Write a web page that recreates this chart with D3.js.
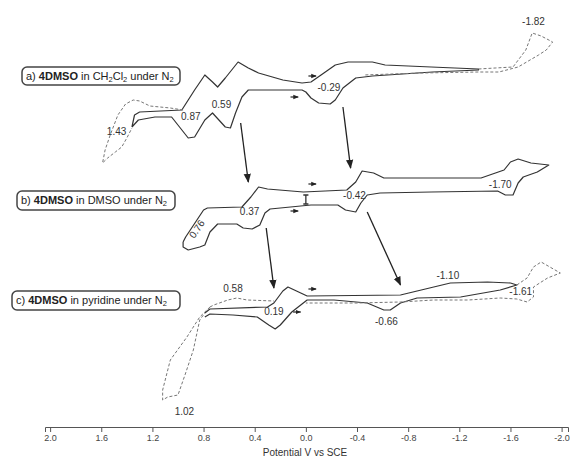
<!DOCTYPE html>
<html>
<head>
<meta charset="utf-8">
<script src="https://cdn.jsdelivr.net/npm/d3@7"></script>
<style>
  body { margin: 0; background: #fff; }
  text { font-family: "Liberation Sans", Arial, sans-serif; }
</style>
</head>
<body>
<svg id="chart" width="570" height="461"></svg>
<script>
// axis ticks (potential, V vs SCE)
const tickValues = [2.0, 1.6, 1.2, 0.8, 0.4, 0.0, -0.4, -0.8, -1.2, -1.6, -2.0];

// vertical shift of each trace (current units)
const panelOffsets = [0, -114, -214];

// a) CH2Cl2 : [E, I]
const solidA = [[1.36,-41],[1.34,-29],[1.30,-26],[0.97,-24],[0.92,-14],[0.87,-4],[0.79,11],[0.73,4],[0.69,-1],[0.63,8],[0.53,24],[0.45,18],[0.37,13],[0.18,6],[0.03,3],[-0.04,4],[-0.13,12],[-0.23,21],[-0.33,24],[-0.52,24],[-0.62,21],[-0.98,19],[-1.35,17],
  [-1.35,16],[-0.99,14],[-0.52,10],[-0.39,8],[-0.29,-2],[-0.23,-14],[-0.19,-18],[-0.10,-17],[-0.04,-12],[0.00,-6],[0.03,-4],[0.45,-4],[0.50,-11],[0.55,-27],[0.59,-42],[0.63,-41],[0.73,-27],[0.79,-34],[0.87,-51],[0.92,-52],[1.05,-31],[1.18,-31],[1.31,-34],[1.36,-41]];
const dashA1 = [[0.96,-24],[1.06,-22],[1.22,-20],[1.30,-15],[1.35,-14],[1.41,-18],[1.47,-29],[1.53,-49],[1.57,-64],[1.59,-77],[1.55,-72],[1.49,-66],[1.44,-61],[1.40,-52],[1.36,-42]];
const dashA2 = [[-1.35,17],[-1.48,18],[-1.62,19],[-1.72,36],[-1.77,53],[-1.84,50],[-1.93,44],[-1.88,36],[-1.82,31],[-1.66,19],[-1.51,14],[-1.35,14],[-0.90,13],[-0.45,11]];

// b) DMSO
const solidB = [[0.96,-42],[0.94,-37],[0.80,-10],[0.77,-8],[0.50,-7],[0.43,3],[0.37,13],[0.30,11],[0.02,8],[-0.32,10],[-0.39,18],[-0.44,29],[-0.53,27],[-0.61,22],[-0.98,22],[-1.37,22],[-1.55,30],[-1.60,38],[-1.66,41],[-1.76,37],[-1.90,35],
  [-1.81,28],[-1.70,23],[-1.66,17],[-1.62,5],[-1.56,5],[-1.50,9],[-0.98,8],[-0.58,7],[-0.48,5],[-0.43,-3],[-0.39,-12],[-0.31,-10],[-0.25,-5],[-0.04,-5],[0.28,-9],[0.32,-13],[0.36,-25],[0.42,-29],[0.49,-28],[0.54,-24],[0.69,-24],[0.75,-32],[0.79,-45],[0.83,-47],[0.92,-50],[0.96,-47],[0.96,-42]];

// c) pyridine
const solidC = [[0.79,-13],[0.75,-9],[0.30,-7],[0.25,-3],[0.18,9],[0.14,13],[0.04,7],[-0.01,4],[-0.74,5],[-1.00,13],[-1.13,17],[-1.42,18],[-1.60,17],[-1.65,15],
  [-1.52,10],[-1.21,3],[-0.87,2],[-0.74,-3],[-0.66,-10],[-0.61,-10],[-0.48,-3],[-0.22,0],[-0.01,0],[0.11,-12],[0.20,-25],[0.24,-29],[0.29,-25],[0.38,-17],[0.57,-15],[0.75,-14],[0.79,-17]];
const dashC1 = [[0.75,-7],[0.72,-5],[0.61,0],[0.54,2],[0.46,0],[0.25,-1]];
const dashC2 = [[0.75,-7],[0.83,-17],[0.93,-37],[1.06,-60],[1.12,-90],[1.12,-100],[1.08,-97],[1.00,-95],[0.94,-73],[0.88,-50],[0.83,-20],[0.79,-13]];
const dashC3 = [[-1.65,15],[-1.73,22],[-1.78,33],[-1.84,38],[-1.99,27],[-1.89,22],[-1.78,13],[-1.78,3],[-1.73,-2],[-1.65,1],[-1.52,2],[-1.27,0],[-1.00,0],[-0.74,-2],[-0.40,-3],[0.00,-3]];

// peak labels: [E, I(panel), text, panel, rotate]
const peakLabels = [
  [1.48,-49,"1.43",0,0],[0.90,-34,"0.87",0,0],[0.66,-22,"0.59",0,0],[-0.18,-5,"-0.29",0,0],[-1.78,61,"-1.82",0,0],
  [0.83,-31,"0.76",1,-55],[0.44,-15,"0.37",1,0],[-0.38,1,"-0.42",1,0],[-1.52,12,"-1.70",1,0],
  [0.57,8,"0.58",2,0],[0.25,-15,"0.19",2,0],[0.95,-115,"1.02",2,0],[-0.63,-25,"-0.66",2,0],[-1.11,21,"-1.10",2,0],[-1.68,5,"-1.61",2,0]
];

// scan-direction arrows: [E1, E2, I, panel]
const scanArrows = [[-0.02,-0.08,10,0],[0.12,0.06,-11,0],[-0.02,-0.08,16,1],[0.12,0.06,-11,1],[-0.02,-0.08,11,2],[0.10,0.04,-12,2]];

// arrows linking the traces: [E1, I1, E2, I2] (stacked current units)
const linkArrows = [[0.51,-37,0.45,-96],[-0.29,-21,-0.35,-82],[0.31,-142,0.25,-202],[-0.48,-126,-0.74,-199]];

// legend boxes
const legendParts = [
  [["a) ",0],["4DMSO",1],[" in CH",0],["2",2],["Cl",0],["2",2],[" under N",0],["2",2]],
  [["b) ",0],["4DMSO",1],[" in DMSO under N",0],["2",2]],
  [["c) ",0],["4DMSO",1],[" in pyridine under N",0],["2",2]]
];

const svg = d3.select("#chart");
const x = d3.scaleLinear().domain([2.04, -2.05]).range([45, 568]);
const y = d3.scaleLinear().domain([0, -340]).range([86, 426]);

const line = (off) => d3.line().x(d => x(d[0])).y(d => y(d[1] + off));

const traces = [
  [solidA, 0, false], [dashA1, 0, true], [dashA2, 0, true],
  [solidB, 1, false],
  [solidC, 2, false], [dashC1, 2, true], [dashC2, 2, true], [dashC3, 2, true]
];

svg.selectAll("path.trace")
  .data(traces)
  .enter().append("path")
  .attr("class", "trace")
  .attr("d", t => line(panelOffsets[t[1]])(t[0]))
  .attr("fill", "none")
  .attr("stroke", t => t[2] ? "#777" : "#333")
  .attr("stroke-width", t => t[2] ? 1 : 1.2)
  .attr("stroke-dasharray", t => t[2] ? "3,2" : null)
  .attr("stroke-linejoin", "round");

// small vertical bar in b
svg.append("path")
  .attr("d", `M${x(0.02)},${y(5 + panelOffsets[1])}H${x(-0.02)}M${x(0)},${y(5 + panelOffsets[1])}V${y(-4 + panelOffsets[1])}M${x(0.02)},${y(-4 + panelOffsets[1])}H${x(-0.02)}`)
  .attr("stroke", "#333").attr("stroke-width", 1.3).attr("fill", "none");

const defs = svg.append("defs");
defs.append("marker")
  .attr("id", "ah").attr("viewBox", "0 0 10 10").attr("refX", 9).attr("refY", 5)
  .attr("markerWidth", 7).attr("markerHeight", 7).attr("orient", "auto")
  .append("path").attr("d", "M0,1L10,5L0,9Z").attr("fill", "#222");
defs.append("marker")
  .attr("id", "sh").attr("viewBox", "0 0 10 10").attr("refX", 9).attr("refY", 5)
  .attr("markerWidth", 4.5).attr("markerHeight", 4.5).attr("orient", "auto")
  .append("path").attr("d", "M0,1L10,5L0,9Z").attr("fill", "#222");

svg.selectAll("line.scan")
  .data(scanArrows)
  .enter().append("line")
  .attr("x1", d => x(d[0])).attr("x2", d => x(d[1]))
  .attr("y1", d => y(d[2] + panelOffsets[d[3]])).attr("y2", d => y(d[2] + panelOffsets[d[3]]))
  .attr("stroke", "#222").attr("stroke-width", 1.2)
  .attr("marker-end", "url(#sh)");

svg.selectAll("line.link")
  .data(linkArrows)
  .enter().append("line")
  .attr("x1", d => x(d[0])).attr("y1", d => y(d[1]))
  .attr("x2", d => x(d[2])).attr("y2", d => y(d[3]))
  .attr("stroke", "#222").attr("stroke-width", 1.3)
  .attr("marker-end", "url(#ah)");

svg.selectAll("text.peak")
  .data(peakLabels)
  .enter().append("text")
  .attr("transform", d => `translate(${x(d[0])},${y(d[1] + panelOffsets[d[3]])}) rotate(${d[4]})`)
  .attr("text-anchor", "middle")
  .attr("font-size", 10)
  .attr("fill", "#333")
  .text(d => d[2]);

// legend boxes
const boxes = [[22, 67, 158, 18], [17, 191, 158, 19], [12, 291, 168, 19]];
boxes.forEach((b, i) => {
  const g = svg.append("g");
  g.append("rect").attr("x", b[0]).attr("y", b[1]).attr("width", b[2]).attr("height", b[3])
    .attr("rx", 5).attr("fill", "#fff").attr("stroke", "#444").attr("stroke-width", 1.5);
  const t = g.append("text").attr("x", b[0] + 4).attr("y", b[1] + b[3] / 2 + 3.8)
    .attr("font-size", 11).attr("fill", "#222");
  let sub = false;
  legendParts[i].forEach(p => {
    const ts = t.append("tspan").text(p[0]);
    if (p[1] === 1) ts.attr("font-weight", "bold");
    if (p[1] === 2) { ts.attr("font-size", 7.5).attr("dy", 2); sub = true; }
    else if (sub) { ts.attr("dy", -2); sub = false; }
  });
});

// axis
const axis = svg.append("g")
  .attr("transform", "translate(0,427)")
  .call(d3.axisBottom(x).tickValues(tickValues).tickSizeOuter(0).tickSize(5)
    .tickFormat(d => d.toFixed(1)));
axis.select(".domain").attr("stroke", "#555");
axis.selectAll(".tick line").attr("stroke", "#555");
axis.selectAll(".tick text").attr("font-size", 9).attr("fill", "#444")
  .attr("font-family", "Liberation Sans, Arial, sans-serif");

svg.append("text")
  .attr("x", 305).attr("y", 456)
  .attr("text-anchor", "middle")
  .attr("font-size", 10).attr("fill", "#333")
  .text("Potential V vs SCE");
</script>
</body>
</html>
